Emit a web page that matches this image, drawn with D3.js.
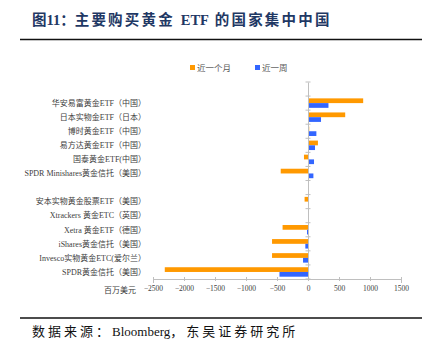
<!DOCTYPE html>
<html>
<head>
<meta charset="utf-8">
<script src="https://cdn.jsdelivr.net/npm/d3@7"></script>
<style>
  body { margin: 0; background: #fff; }
  svg { display: block; }
</style>
</head>
<body>
<div class="svg"></div>
<script>
// categories top to bottom; "" marks an empty slot
var categories = ["", "华安易富黄金ETF（中国）", "日本实物金ETF（日本）", "博时黄金ETF（中国）",
  "易方达黄金ETF（中国）", "国泰黄金ETF(中国）", "SPDR Minishares黄金信托（美国）", " ",
  "安本实物黄金股票ETF（美国）", "Xtrackers 黄金ETC（英国）", "Xetra 黄金ETF（德国）",
  "iShares黄金信托（美国）", "Invesco实物黄金ETC(爱尔兰）", "SPDR黄金信托（美国）"];
var month = [null, 890, 600, 20, 160, -65, -440, null, -55, 0, -410, -580, -580, -2310];
var week = [null, 330, 210, 135, 113, 97, 87, null, 0, 0, -16, -43, -80, -460];
var xTicks = [-2500, -2000, -1500, -1000, -500, 0, 500, 1000, 1500];
var seriesNames = ["近一个月", "近一周"];
var colors = ["#ff9900", "#3366ff"];

var w = 423, h = 353;
var svg = d3.select(".svg").append("svg").attr("width", w).attr("height", h);

var serif = "'Liberation Serif', 'Noto Sans CJK SC', serif";

// text where only the CJK parts are spaced out
function spacedText(sel, parts, sp) {
  parts.forEach(function(p) {
    sel.append("tspan").attr("letter-spacing", p[1] ? sp : 0).text(p[0]);
  });
}

// title
var title = svg.append("text").attr("x", 32).attr("y", 25)
   .attr("font-family", serif).attr("font-weight", "bold")
   .attr("font-size", 14.5).attr("fill", "#1f3864");
spacedText(title, [["图11：", 0], ["主要购买黄金 ", 1], ["ETF", 0], [" 的国家集中中国", 1]], 2.2);
svg.append("line").attr("x1", 20).attr("x2", 422).attr("y1", 39.5).attr("y2", 39.5)
   .attr("stroke", "#111").attr("stroke-width", 1.5);

// source
svg.append("line").attr("x1", 20).attr("x2", 422).attr("y1", 318).attr("y2", 318)
   .attr("stroke", "#111").attr("stroke-width", 1.5);
var src = svg.append("text").attr("x", 32).attr("y", 336)
   .attr("font-family", serif).attr("font-size", 13).attr("fill", "#111");
spacedText(src, [["数据来源：", 1], ["Bloomberg", 0], ["，东吴证券研究所", 1]], 3);

var xScale = d3.scaleLinear().domain([-2500, 1500]).range([153, 401]);
var yScale = d3.scaleBand().domain(categories).range([82, 279]);

var data = categories.map(function(c, i) {
  return { name: c, values: [month[i], week[i]] };
});

var inner = d3.scaleBand().domain([0, 1]).range([2.3, yScale.bandwidth() - 2.3]);

// bars
var chart = svg.append("g");
data.forEach(function(d) {
  d.values.forEach(function(v, j) {
    if (v === null || v === 0) return;
    chart.append("rect")
      .attr("x", xScale(Math.min(0, v)))
      .attr("width", Math.abs(xScale(v) - xScale(0)))
      .attr("y", yScale(d.name) + inner(j))
      .attr("height", inner.bandwidth())
      .attr("fill", colors[j]);
  });
});

// y axis at zero
var yAxis = d3.axisLeft(yScale).tickSize(0).tickFormat("");
var gy = svg.append("g").attr("transform", "translate(" + xScale(0) + ",0)").call(yAxis);
gy.select(".domain").attr("stroke", "#bfbfbf");
categories.concat(["end"]).forEach(function(c, i) {
  var y = i < categories.length ? yScale(c) : yScale.range()[1];
  gy.append("line").attr("x1", -2.5).attr("x2", 2.5).attr("y1", y).attr("y2", y).attr("stroke", "#bfbfbf");
});

// category labels
svg.append("g").selectAll("text").data(categories).enter().append("text")
   .attr("x", 146)
   .attr("y", function(d) { return yScale(d) + yScale.bandwidth() / 2; })
   .attr("dy", "0.35em")
   .attr("text-anchor", "end")
   .attr("font-family", serif).attr("font-size", 8).attr("fill", "#404040")
   .text(function(d) { return d.trim(); });

// x axis
var xAxis = d3.axisBottom(xScale).tickValues(xTicks).tickSize(4).tickPadding(3).tickFormat(d3.format("d"));
var gx = svg.append("g").attr("transform", "translate(0,279)").call(xAxis);
gx.select(".domain").attr("stroke", "#bfbfbf");
gx.selectAll(".tick line").attr("stroke", "#bfbfbf").attr("y1", -2).attr("y2", 2);
gx.selectAll(".tick text").attr("font-family", serif).attr("font-size", 7.5).attr("fill", "#404040");

svg.append("text").attr("x", 104).attr("y", 293)
   .attr("font-family", serif).attr("font-size", 8).attr("fill", "#404040")
   .text("百万美元");

// legend
var legendX = [190, 255];
seriesNames.forEach(function(n, j) {
  svg.append("rect").attr("x", legendX[j]).attr("y", 65).attr("width", 5).attr("height", 5).attr("fill", colors[j]);
  svg.append("text").attr("x", legendX[j] + 7).attr("y", 70.5)
     .attr("font-family", "'Noto Sans CJK SC', sans-serif").attr("font-size", 8.5).attr("fill", "#595959")
     .text(n);
});
</script>
</body>
</html>
